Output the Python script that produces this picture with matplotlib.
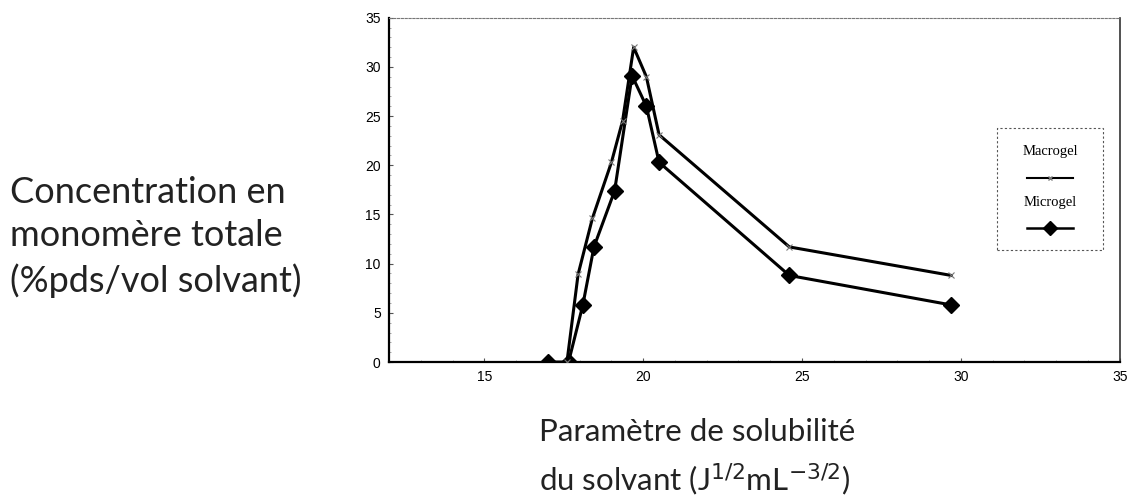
import matplotlib.pyplot as plt
from matplotlib.patches import Rectangle

# solubility parameter of the solvent
macro_x = [17.6, 17.95, 18.4, 19.0, 19.35, 19.7, 20.1, 20.5, 24.6, 29.7]
macro_y = [0.0, 8.9, 14.6, 20.3, 24.5, 32.0, 29.0, 23.1, 11.7, 8.8]

micro_x = [17.0, 17.65, 18.1, 18.45, 19.1, 19.65, 20.1, 20.5, 24.6, 29.7]
micro_y = [0.0, 0.0, 5.8, 11.7, 17.4, 29.1, 26.0, 20.3, 8.8, 5.8]

xticks = [15, 20, 25, 30, 35]
yticks = [0, 5, 10, 15, 20, 25, 30, 35]

fig = plt.figure(figsize=(11.31, 4.99), dpi=100)
ax = fig.add_axes([0.344, 0.2745, 0.646, 0.69])

ax.plot(micro_x, micro_y, color="black", lw=2.2, marker="D", ms=8,
        mfc="black", mec="black", zorder=3)
ax.plot(macro_x, macro_y, color="black", lw=2.2, marker="x", ms=4,
        mew=0.8, mec="#777777", zorder=4)

ax.set_xlim(12, 35)
ax.set_ylim(0, 35)
ax.set_xticks(xticks)
ax.set_yticks(yticks)
ax.set_xticklabels([str(t) for t in xticks], fontsize=10, family="Liberation Sans")
ax.set_yticklabels([str(t) for t in yticks], fontsize=10, family="Liberation Sans")
ax.minorticks_on()
ax.tick_params(which="major", direction="in", length=3, width=0.8, color="#555555", pad=6)
ax.tick_params(which="minor", direction="in", length=1.5, width=0.6, color="#999999")

ax.spines["bottom"].set_linewidth(1.6)
ax.spines["left"].set_linewidth(1.6)
ax.spines["top"].set_linestyle((0, (2, 1.5)))
ax.spines["top"].set_color("#777777")
ax.spines["right"].set_color("#333333")
ax.spines["right"].set_linewidth(1.2)

# legend drawn like the scanned original: label above each sample
box = Rectangle((0.832, 0.326), 0.145, 0.354, transform=ax.transAxes,
                fill=False, ls=(0, (2, 2)), lw=0.8, ec="#555555", zorder=5)
ax.add_patch(box)
ax.text(0.905, 0.61, "Macrogel", transform=ax.transAxes, ha="center",
        va="center", fontsize=10.5, family="Liberation Serif")
ax.plot([0.873, 0.905, 0.936], [0.535, 0.535, 0.535], transform=ax.transAxes,
        color="black", lw=1.5, marker="x", markevery=[1], ms=3, mec="#777777")
ax.text(0.905, 0.462, "Microgel", transform=ax.transAxes, ha="center",
        va="center", fontsize=10.5, family="Liberation Serif")
ax.plot([0.873, 0.905, 0.936], [0.39, 0.39, 0.39], transform=ax.transAxes,
        color="black", lw=1.8, marker="D", markevery=[1], ms=7)

fig.text(0.009, 0.525, "Concentration en\nmonomère totale\n(%pds/vol solvant)",
         ha="left", va="center", fontsize=26, family="Lato", linespacing=1.39,
         color="#222222")
fig.text(0.477, 0.082,
         "Paramètre de solubilité\ndu solvant (J$^{1/2}$mL$^{-3/2}$)",
         ha="left", va="center", fontsize=22.5, family="Lato", linespacing=1.55,
         color="#222222")

fig.savefig("out.png", dpi=100)
